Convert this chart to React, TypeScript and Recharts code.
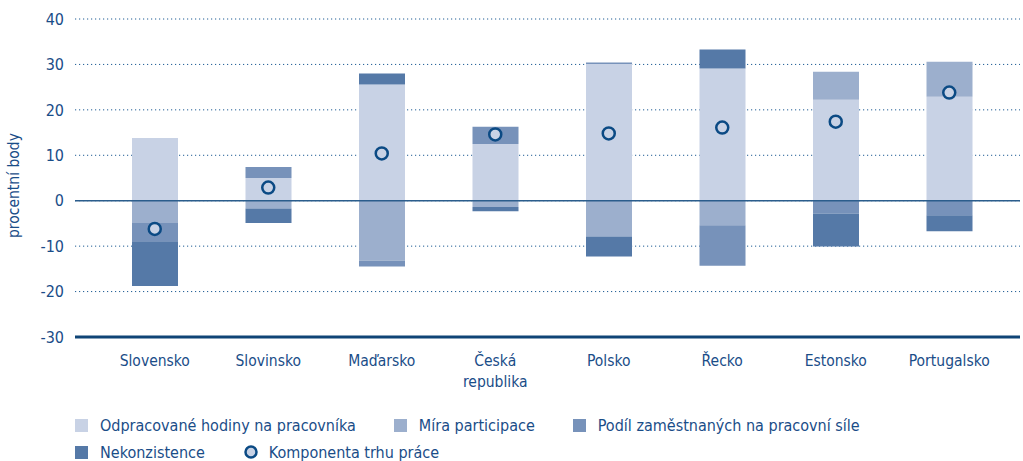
import { ComposedChart, Bar, Line, XAxis, YAxis, CartesianGrid, ReferenceLine, Legend } from 'recharts';

const categories = ['Slovensko', 'Slovinsko', 'Maďarsko', 'Česká\nrepublika', 'Polsko', 'Řecko', 'Estonsko', 'Portugalsko'];
const hoursPerWorker = [13.8, 5.0, 25.6, 12.5, 30.1, 29.1, 22.2, 22.9];
const participation = [-4.9, -1.7, -13.2, -1.4, -7.9, -5.4, 6.2, 7.7];
const employedShare = [-4.0, 2.4, -1.3, 3.8, 0.3, -8.9, -2.8, -3.2];
const inconsistency = [-9.9, -3.2, 2.4, -0.9, -4.4, 4.2, -7.3, -3.5];
const labourComponent = [-6.2, 2.9, 10.4, 14.6, 14.8, 16.1, 17.4, 23.8];
const yTicks = [-30, -20, -10, 0, 10, 20, 30, 40];

const FONT = "'Liberation Sans Narrow', 'DejaVu Sans Condensed', 'Open Sans', sans-serif";
const TEXT = '#1a4d88';
const DOT = '#0b4a84';

const series = [
  { key: 'hours', name: 'Odpracované hodiny na pracovníka', color: '#c8d2e5' },
  { key: 'participation', name: 'Míra participace', color: '#9cafcd' },
  { key: 'employed', name: 'Podíl zaměstnaných na pracovní síle', color: '#7792ba' },
  { key: 'inconsistency', name: 'Nekonzistence', color: '#5579a7' },
];

const data = categories.map((c, i) => ({
  country: c,
  hours: hoursPerWorker[i],
  participation: participation[i],
  employed: employedShare[i],
  inconsistency: inconsistency[i],
  labour: labourComponent[i],
}));

function CountryTick({ x, y, payload }: any) {
  const lines = String(payload.value).split('\n');
  return (
    <text x={x} y={y} textAnchor="middle" fill={TEXT} fontSize={15.5} fontFamily={FONT}>
      {lines.map((l, i) => (
        <tspan key={i} x={x} dy={i === 0 ? 21 : 21}>{l}</tspan>
      ))}
    </text>
  );
}

function LegendBox() {
  return (
    <div style={{ height: 62, paddingTop: 15, boxSizing: 'border-box', paddingLeft: 60, fontFamily: FONT, fontSize: 16, color: TEXT }}>
      <div style={{ display: 'flex', flexWrap: 'wrap', width: 880, rowGap: 5 }}>
        {series.map((s) => (
          <div key={s.key} style={{ display: 'flex', alignItems: 'center', height: 22, marginRight: 38, whiteSpace: 'nowrap' }}>
            <span style={{ width: 13, height: 13, background: s.color, display: 'inline-block', marginRight: 12 }} />
            {s.name}
          </div>
        ))}
        <div style={{ display: 'flex', alignItems: 'center', height: 22, whiteSpace: 'nowrap' }}>
          <svg width={16} height={16} style={{ marginRight: 10 }}>
            <circle cx={8} cy={8} r={5.5} fill="#c8d2e5" stroke={DOT} strokeWidth={2.5} />
          </svg>
          Komponenta trhu práce
        </div>
      </div>
    </div>
  );
}

export default function App() {
  return (
    <div style={{ position: 'absolute', left: 0, top: 0, width: 1023, height: 461, background: '#fff' }}>
      <ComposedChart
        width={1023}
        height={461}
        data={data}
        stackOffset="sign"
        margin={{ top: 19, right: 3, left: 15, bottom: 0 }}
      >
        <CartesianGrid vertical={false} stroke="#1f5c94" strokeDasharray="1.2 2.8" />
        <XAxis
          dataKey="country"
          interval={0}
          tick={<CountryTick />}
          tickLine={false}
          axisLine={{ stroke: '#0f4476', strokeWidth: 3 }}
          padding={{ left: 23, right: 14 }}
          height={62}
        />
        <YAxis
          domain={[-30, 40]}
          ticks={yTicks}
          width={60}
          tickLine={false}
          axisLine={false}
          tickMargin={5}
          tick={{ fill: TEXT, fontSize: 16, fontFamily: FONT }}
          label={{ value: 'procentní body', angle: -90, position: 'insideLeft', offset: 0, dx: -2, dy: 60, fill: TEXT, fontSize: 15.5, fontFamily: FONT }}
        />
        <ReferenceLine y={0} stroke="#2b5d8c" strokeWidth={1.5} />
        {series.map((s) => (
          <Bar key={s.key} dataKey={s.key} name={s.name} stackId="a" fill={s.color} barSize={46} isAnimationActive={false} />
        ))}
        <Line
          dataKey="labour"
          name="Komponenta trhu práce"
          stroke="none"
          dot={{ r: 6, fill: '#c8d2e5', stroke: DOT, strokeWidth: 2.5 }}
          activeDot={false}
          isAnimationActive={false}
        />
        <Legend verticalAlign="bottom" content={<LegendBox />} />
      </ComposedChart>
    </div>
  );
}
